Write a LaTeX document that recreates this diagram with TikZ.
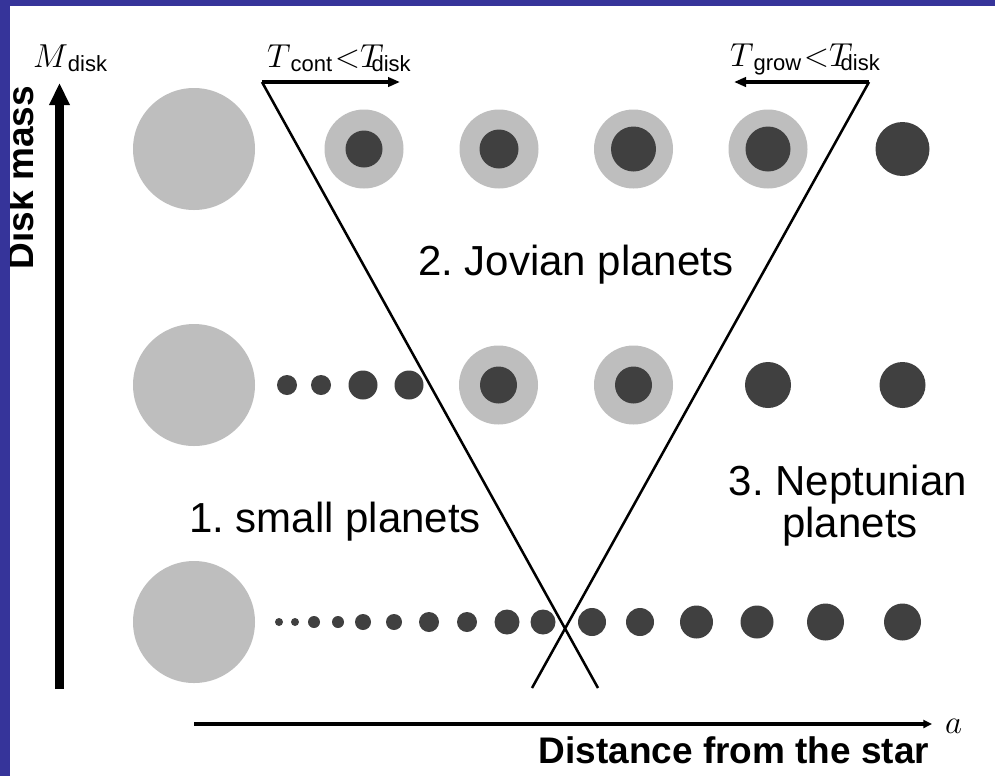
\documentclass[tikz,border=0pt]{standalone}
\usepackage{fontspec}
\setsansfont{Liberation Sans}
\usetikzlibrary{arrows.meta}
\frenchspacing
\definecolor{slideblue}{RGB}{54,52,154}
\definecolor{diskgray}{RGB}{190,190,190}
\definecolor{planetdark}{RGB}{64,64,64}
\newcommand\subtxt[1]{\raisebox{-3pt}{\fontsize{16.5}{16.5}\selectfont\sffamily #1}}
\newcommand\bigmath[1]{{\fontsize{27.5}{27.5}\selectfont$#1$}}
\tikzset{
  diskfill/.style={fill=diskgray},
  planetfill/.style={fill=planetdark},
  lbl/.style={inner sep=0pt, outer sep=0pt, font=\sffamily\fontsize{31.5}{31.5}\selectfont},
  axislbl/.style={inner sep=0pt, outer sep=0pt, font=\sffamily\bfseries\fontsize{27.75}{27.75}\selectfont},
  mathlbl/.style={inner sep=0pt, outer sep=0pt},
  vline/.style={line width=1.9pt},
  toparrow/.style={line width=2.5pt, -{Triangle[length=9pt,width=7pt]}},
}
\begin{document}
\begin{tikzpicture}[x=0.75pt,y=-0.75pt]
\useasboundingbox (0,0) rectangle (995,776);
\fill[white] (0,0) rectangle (995,776);

% rows of disks / planets
% top row
\fill[diskfill] (194,149) circle[radius=61];
\foreach \x/\r in {364/18.5, 499/19.5, 633.5/22.5, 768/22.5}{
  \fill[diskfill] (\x,149) circle[radius=39.5];
  \fill[planetfill] (\x,149) circle[radius=\r];
}
\fill[planetfill] (902.5,149) circle[radius=27];
% middle row
\fill[diskfill] (194,385) circle[radius=61];
\foreach \x/\r in {287/10, 321/10, 363/14.5, 409/14.5, 768/23, 902.5/23}{
  \fill[planetfill] (\x,385) circle[radius=\r];
}
\foreach \x in {498.5, 633.5}{
  \fill[diskfill] (\x,385) circle[radius=39.5];
  \fill[planetfill] (\x,385) circle[radius=18.5];
}
% bottom row
\fill[diskfill] (194,622) circle[radius=61];
\foreach \x/\r in {279/4, 295/4, 314/6, 338/6, 363/8, 394/8, 429/10, 467/10,
                   507/12.5, 543/12.5, 592/14, 640/14, 696.5/16.5, 757/16.5,
                   825.5/18.5, 902.5/18.5}{
  \fill[planetfill] (\x,622) circle[radius=\r];
}

% V boundary lines with top arrows
\coordinate (lTop) at (262,82);
\coordinate (lBot) at (598,688);
\coordinate (lTip) at (400,82);
\coordinate (rTop) at (869,82);
\coordinate (rBot) at (532,688);
\coordinate (rTip) at (734,82);
\draw[vline] (lTop) -- (lBot);
\draw[vline] (rTop) -- (rBot);
\draw[toparrow] (lTop) -- (lTip);
\draw[toparrow] (rTop) -- (rTip);

% axes
\coordinate (yStart) at (59.5,689);
\coordinate (yEnd) at (59.5,83);
\coordinate (xStart) at (194,724);
\coordinate (xEnd) at (932,724);
\draw[line width=6.75pt, -{Triangle[length=16.5pt,width=14.5pt]}] (yStart) -- (yEnd);
\draw[line width=3pt, -{Triangle[length=6.5pt,width=6pt]}] (xStart) -- (xEnd);

% labels
\node[lbl, anchor=base west] (jov) at (418,275) {2. Jovian planets};
\node[lbl, anchor=base west] (small) at (189,532) {1. small planets};
\node[lbl, anchor=base] (nep1) at (848,495) {3. Neptunian};
\node[lbl, anchor=base] (nep2) at (850,537) {planets};
\node[axislbl, anchor=base] (dist) at (734,763) {Distance from the star};
\node[axislbl, anchor=base, rotate=90] (mass) at (33,177.5) {Disk mass};
\node[mathlbl, anchor=base west] (mdisk) at (33,67) {\bigmath{M}\subtxt{disk}};
\node[mathlbl, anchor=base west] (tcont) at (267,67)
  {\bigmath{T}\subtxt{cont}\hspace{2pt}\bigmath{<}\bigmath{T}\kern-9pt\subtxt{disk}};
\node[mathlbl, anchor=base west] (tgrow) at (730,66)
  {\bigmath{T}\subtxt{grow}\hspace{2pt}\bigmath{<}\bigmath{T}\kern-9pt\subtxt{disk}};
\node[mathlbl, anchor=base west] (alab) at (945,733) {\bigmath{a}};

% slide frame
\fill[slideblue] (0,0) rectangle (995,6);
\fill[slideblue] (0,0) rectangle (10,776);
\end{tikzpicture}
\end{document}
